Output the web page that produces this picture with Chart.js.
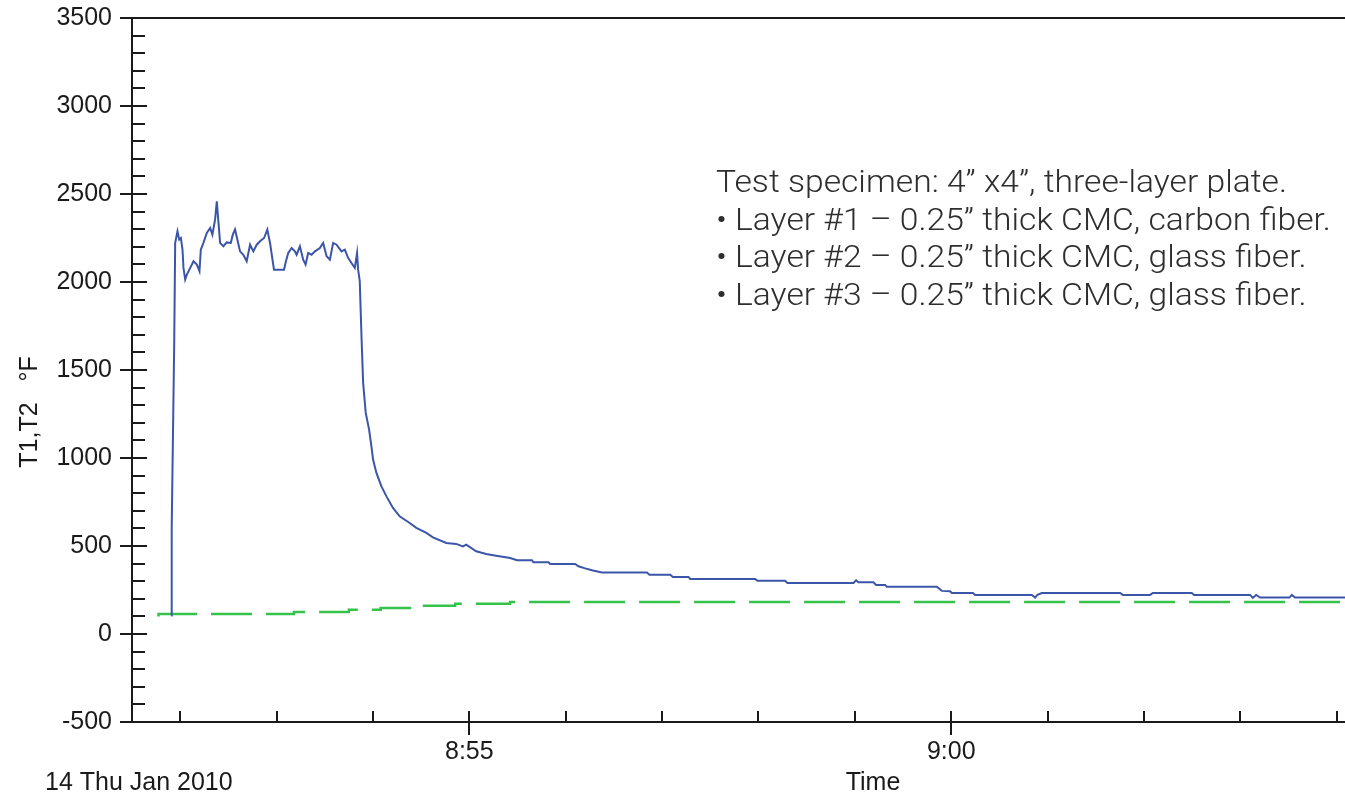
<!DOCTYPE html>
<html>
<head>
<meta charset="utf-8">
<script src="https://cdn.jsdelivr.net/npm/chart.js@4"></script>
<style>
  html, body { margin: 0; padding: 0; background: #fff; }
</style>
</head>
<body>
<canvas id="temps-chart" width="1345" height="796"></canvas>
<script>
// time is in minutes after 8:50
const t1Minutes = [
  1.907, 1.912, 1.938, 1.948, 1.972, 1.990, 2.007, 2.024, 2.034, 2.052, 2.069, 2.104, 2.138, 2.173, 2.200,
  2.214, 2.241, 2.276, 2.311, 2.334, 2.362, 2.380, 2.396, 2.414, 2.448, 2.483, 2.525, 2.546, 2.569, 2.593,
  2.621, 2.655, 2.690, 2.725, 2.759, 2.794, 2.828, 2.870, 2.904, 2.932, 2.973, 3.077, 3.097, 3.121, 3.156,
  3.190, 3.208, 3.242, 3.276, 3.301, 3.328, 3.363, 3.398, 3.449, 3.483, 3.519, 3.553, 3.587, 3.622, 3.674,
  3.708, 3.742, 3.777, 3.812, 3.835, 3.846, 3.863, 3.881, 3.898, 3.925, 3.960, 3.984, 4.001, 4.036, 4.088,
  4.140, 4.208, 4.277, 4.381, 4.450, 4.554, 4.622, 4.761, 4.864, 4.933, 4.968, 5.071, 5.175, 5.278, 5.424,
  5.494, 5.649, 5.665, 5.822, 5.839, 6.098, 6.132, 6.202, 6.272, 6.375, 6.842, 6.869, 7.084, 7.112, 7.274,
  7.291, 7.965, 7.989, 8.276, 8.300, 8.985, 9.013, 9.037, 9.192, 9.220, 9.314, 9.332, 9.850, 9.902, 9.988,
  10.006, 10.224, 10.248, 10.836, 10.870, 10.894, 10.940, 11.752, 11.780, 12.063, 12.091, 12.495, 12.520, 13.101, 13.128,
  13.163, 13.204, 13.508, 13.533, 13.567, 14.085
];
const t1Temps = [
  105, 605, 1655, 2222, 2288, 2241, 2250, 2184, 2080, 2014, 2042, 2080, 2118, 2099, 2061,
  2184, 2222, 2279, 2307, 2269, 2354, 2458, 2345, 2222, 2203, 2225, 2222, 2269, 2298, 2241,
  2174, 2155, 2118, 2212, 2174, 2212, 2231, 2250, 2298, 2222, 2070, 2070, 2118, 2165, 2193,
  2174, 2155, 2203, 2127, 2099, 2165, 2155, 2174, 2193, 2222, 2146, 2127, 2222, 2212, 2174,
  2184, 2137, 2108, 2080, 2165, 2070, 2005, 1691, 1427, 1256, 1161, 1066, 991, 915, 839,
  782, 716, 669, 631, 603, 574, 549, 517, 512, 498, 508, 470, 455, 445, 432,
  419, 419, 407, 407, 398, 398, 385, 373, 362, 350, 350, 337, 337, 324, 324,
  313, 313, 302, 302, 290, 290, 305, 294, 294, 279, 279, 268, 268, 245, 243,
  233, 233, 222, 222, 207, 222, 233, 233, 222, 222, 233, 233, 222, 222, 205,
  222, 207, 207, 222, 207, 207
];
const t2Minutes = [1.775, 3.180, 3.750, 4.080, 4.470, 4.853, 5.423, 6.950, 14.085];
const t2Temps = [100, 114, 125, 138, 148, 161, 172, 182, 182];

const timeTickMinutes = [5, 10];
const timeTickLabels = ['8:55', '9:00'];
const dateLabel = '14 Thu Jan 2010';
const xTitle = 'Time';
const yTitle = 'T1,T2   \u00B0F';
const noteLines = [
  'Test specimen: 4\u201D x4\u201D, three-layer plate.',
  '\u2022 Layer #1 \u2013 0.25\u201D thick CMC, carbon fiber.',
  '\u2022 Layer #2 \u2013 0.25\u201D thick CMC, glass fiber.',
  '\u2022 Layer #3 \u2013 0.25\u201D thick CMC, glass fiber.'
];

const axisFont = '"Liberation Sans", Arial, sans-serif';
const inkColor = '#1a1a1a';

// inner tick marks, top frame line and loose texts
const decorations = {
  id: 'decorations',
  afterDraw(chart) {
    const ctx = chart.ctx;
    const xs = chart.scales.x;
    const ys = chart.scales.y;
    ctx.save();
    ctx.strokeStyle = inkColor;
    ctx.lineWidth = 2;
    ctx.beginPath();
    for (let v = ys.min; v <= ys.max; v += 100) {
      const py = Math.round(ys.getPixelForValue(v));
      const len = v % 500 === 0 ? 15 : 13;
      ctx.moveTo(xs.left, py);
      ctx.lineTo(xs.left + len, py);
    }
    xs.ticks.forEach(t => {
      const px = Math.round(xs.getPixelForValue(t.value));
      ctx.moveTo(px, ys.bottom);
      ctx.lineTo(px, ys.bottom - 11);
    });
    ctx.moveTo(xs.left, ys.top);
    ctx.lineTo(xs.right, ys.top);
    ctx.stroke();

    ctx.fillStyle = inkColor;
    ctx.font = '25px ' + axisFont;
    ctx.textBaseline = 'middle';
    ctx.textAlign = 'left';
    ctx.fillText(dateLabel, 45, 783);
    ctx.textAlign = 'center';
    ctx.fillText(xTitle, 873, 783);

    ctx.save();
    ctx.translate(30, 412);
    ctx.rotate(-Math.PI / 2);
    ctx.fillText(yTitle, 0, 0);
    ctx.restore();

    // note block, squeezed to the width it has in the picture
    ctx.fillStyle = '#2e2e2e';
    ctx.font = '300 32px Roboto, "Noto Sans", sans-serif';
    ctx.textAlign = 'left';
    const sx = 571 / ctx.measureText(noteLines[0]).width;
    noteLines.forEach((line, i) => {
      ctx.save();
      ctx.translate(716, 184 + i * 37.5);
      ctx.scale(sx, 1);
      ctx.fillText(line, 0, 0);
      ctx.restore();
    });
    ctx.restore();
  }
};

const ctx = document.getElementById('temps-chart').getContext('2d');
new Chart(ctx, {
  type: 'line',
  data: {
    datasets: [
      {
        label: 'T1',
        data: t1Minutes.map((m, i) => ({ x: m, y: t1Temps[i] })),
        borderColor: '#3b55a9',
        borderWidth: 2,
        pointRadius: 0,
        tension: 0,
      },
      {
        label: 'T2',
        data: t2Minutes.map((m, i) => ({ x: m, y: t2Temps[i] })),
        borderColor: '#35c24a',
        borderWidth: 2.5,
        borderDash: [41, 14],
        pointRadius: 0,
        stepped: 'after',
      },
    ],
  },
  options: {
    responsive: false,
    animation: false,
    devicePixelRatio: 1,
    layout: { padding: { top: 18, right: 0, left: 0, bottom: 0 } },
    plugins: {
      legend: { display: false },
      tooltip: { enabled: false },
    },
    scales: {
      x: {
        type: 'linear',
        min: 1.5,
        max: 14.085,
        afterFit(scale) { scale.height = 74; },
        ticks: {
          stepSize: 1,
          includeBounds: false,
          autoSkip: false,
          maxRotation: 0,
          padding: 2,
          color: inkColor,
          font: { family: axisFont, size: 25 },
          callback: (v) => {
            const k = timeTickMinutes.indexOf(v);
            return k >= 0 ? timeTickLabels[k] : '';
          },
        },
        grid: {
          drawOnChartArea: false,
          drawTicks: true,
          tickLength: 13,
          lineWidth: 2,
          color: (c) => (c.tick && timeTickMinutes.includes(c.tick.value) ? inkColor : 'rgba(0,0,0,0)'),
        },
        border: { display: true, color: inkColor, width: 2 },
      },
      y: {
        min: -500,
        max: 3500,
        afterFit(scale) { scale.width = 132; },
        ticks: {
          stepSize: 500,
          padding: 8,
          color: inkColor,
          font: { family: axisFont, size: 25, lineHeight: 0.7 },
          callback: (v) => String(v),
        },
        grid: {
          drawOnChartArea: false,
          drawTicks: true,
          tickLength: 12,
          lineWidth: 2,
          color: inkColor,
        },
        border: { display: true, color: inkColor, width: 2 },
      },
    },
  },
  plugins: [decorations],
});
</script>
</body>
</html>
